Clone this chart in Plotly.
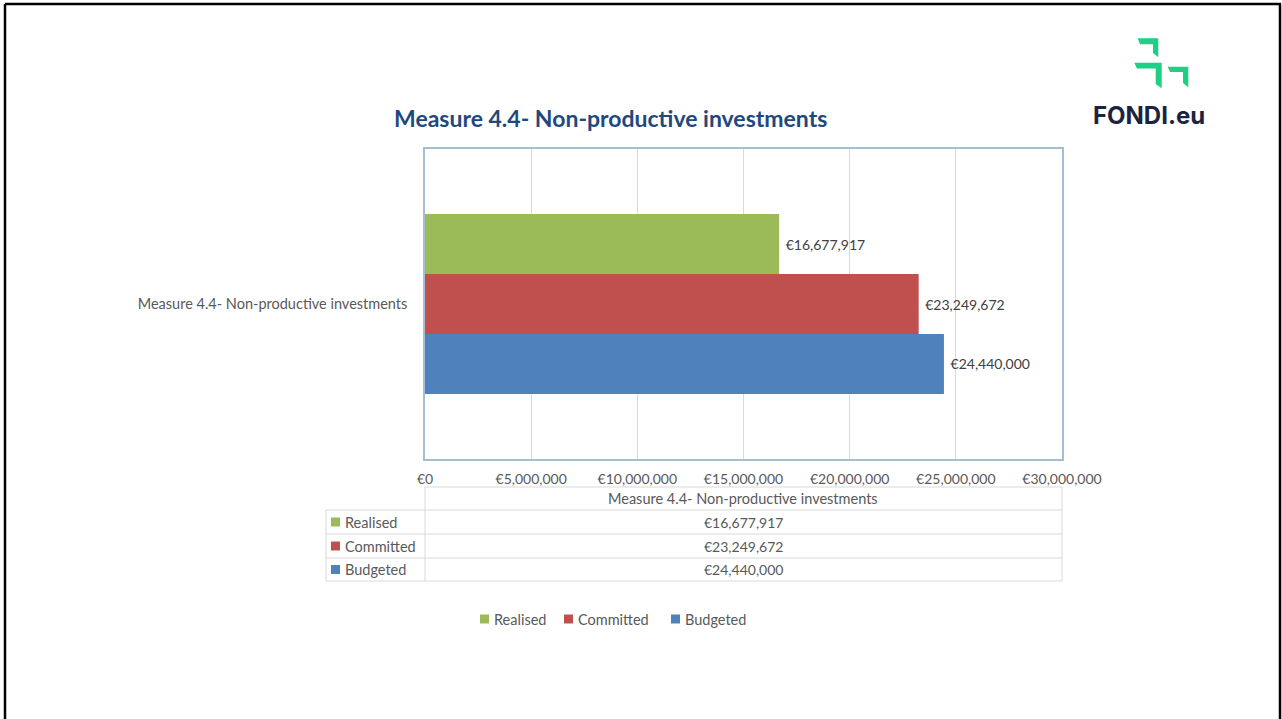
import plotly.graph_objs as go

# data
category = ["Measure 4.4- Non-productive investments"]
series = ["Realised", "Committed", "Budgeted"]
values = [16677917, 23249672, 24440000]
colors = ["#9bbb59", "#c0504d", "#4f81bd"]
x_ticks = [0, 5000000, 10000000, 15000000, 20000000, 25000000, 30000000]
x_ticktext = [f"€{v:,}" for v in x_ticks]

W, H = 1282, 719
L, R, T, B = 425, 1062, 149, 459
GREY = "#595959"
FONT = "Lato"

def px(x):
    return (x - L) / (R - L)

def py(y):
    return (B - y) / (B - T)

def note(text, x, y, size, color=GREY, xanchor="center", family=FONT):
    return dict(text=text, xref="paper", yref="paper", x=px(x), y=py(y),
                xanchor=xanchor, yanchor="middle", showarrow=False,
                font=dict(family=family, size=size, color=color))

fig = go.Figure()

# plotly draws grouped horizontal bars bottom-up, so add in reverse
for name, val, col in reversed(list(zip(series, values, colors))):
    fig.add_trace(go.Bar(
        y=category, x=[val], name=name, orientation="h",
        marker_color=col, marker_line_width=0,
        texttemplate=" €%{x:,.0f}", textposition="outside",
        textfont=dict(family=FONT, size=14, color="#404040"),
        constraintext="none", cliponaxis=False, showlegend=False,
        hoverinfo="skip",
    ))

shapes = []
annotations = []

# page border
for x0, y0, x1, y1 in [(5, 4, 5, 719), (5, 4, 1281, 4), (1280, 4, 1280, 719)]:
    shapes.append(dict(type="line", xref="paper", yref="paper",
                       x0=px(x0), y0=py(y0), x1=px(x1), y1=py(y1),
                       line=dict(color="#000000", width=2.5)))

# title
annotations.append(note("<b>Measure 4.4- Non-productive investments</b>", 610, 118, 23, "#1f497d"))

# logo
green = "#1fcf86"
logo_polys = [
    [(1137.7, 38.3), (1158.3, 38.3), (1158.3, 57.3), (1153, 53), (1153, 44.3), (1140, 44.3)],
    [(1134.3, 62.7), (1161.7, 62.7), (1161.7, 88.3), (1155.7, 84), (1155.7, 68.6), (1137, 68.6)],
    [(1167.7, 66.7), (1188.3, 66.7), (1188.3, 87.3), (1183, 83), (1183, 72), (1170, 72)],
]
for poly in logo_polys:
    path = "M " + " L ".join(f"{px(a):.5f},{py(b):.5f}" for a, b in poly) + " Z"
    shapes.append(dict(type="path", xref="paper", yref="paper", path=path,
                       fillcolor=green, line=dict(width=0)))
annotations.append(note("<b>FONDI.eu</b>", 1149, 115, 24, "#1c2340", family="Inter"))

# data table below the axis
tbl_line = dict(color="#d9d9d9", width=1)
row_y = [487, 510, 534, 558, 581]
shapes.append(dict(type="line", xref="paper", yref="paper", x0=px(425), x1=px(1062),
                   y0=py(487), y1=py(487), line=tbl_line))
for yy in row_y[1:]:
    shapes.append(dict(type="line", xref="paper", yref="paper", x0=px(326), x1=px(1062),
                       y0=py(yy), y1=py(yy), line=tbl_line))
for xx, ytop in [(326, 510), (425, 487), (1062, 487)]:
    shapes.append(dict(type="line", xref="paper", yref="paper", x0=px(xx), x1=px(xx),
                       y0=py(ytop), y1=py(581), line=tbl_line))
annotations.append(note(category[0], 743, 499, 14.5))
for i, (name, val, col) in enumerate(zip(series, values, colors)):
    yc = (row_y[i + 1] + row_y[i + 2]) / 2
    shapes.append(dict(type="rect", xref="paper", yref="paper",
                       x0=px(331), x1=px(340), y0=py(yc - 4.5), y1=py(yc + 4.5),
                       fillcolor=col, line=dict(width=0)))
    annotations.append(note(name, 343, yc, 14.5, xanchor="left"))
    annotations.append(note(f"€{val:,}", 743, yc, 14))

# legend
leg_x = [480, 564, 671]
for name, col, lx in zip(series, colors, leg_x):
    shapes.append(dict(type="rect", xref="paper", yref="paper",
                       x0=px(lx), x1=px(lx + 9), y0=py(619 - 4.5), y1=py(619 + 4.5),
                       fillcolor=col, line=dict(width=0)))
    annotations.append(note(name, lx + 12, 619, 14.5, xanchor="left"))

fig.update_layout(
    width=W, height=H,
    margin=dict(l=L, r=W - R, t=T, b=H - B, autoexpand=False),
    paper_bgcolor="white", plot_bgcolor="white",
    barmode="group", bargap=0.42, bargroupgap=0,
    showlegend=False,
    shapes=shapes, annotations=annotations,
    font=dict(family=FONT, color=GREY),
)
fig.update_xaxes(range=[0, 30000000], tickvals=x_ticks, ticktext=x_ticktext,
                 showgrid=True, gridcolor="#d9d9d9", gridwidth=1, zeroline=False,
                 showline=True, linecolor="#a7bdd3", linewidth=1.5, mirror=True,
                 ticks="", ticklabelstandoff=6,
                 tickfont=dict(family=FONT, size=14, color=GREY))
fig.update_yaxes(showline=True, linecolor="#a7bdd3", linewidth=1.5, mirror=True,
                 showgrid=False, ticks="", ticklabelstandoff=13,
                 tickfont=dict(family=FONT, size=14.5, color=GREY))

# drop the default body margin so the figure sits at the page origin
fig.write_html("out.html", config={"displayModeBar": False},
               post_script="document.body.style.margin='0';")
